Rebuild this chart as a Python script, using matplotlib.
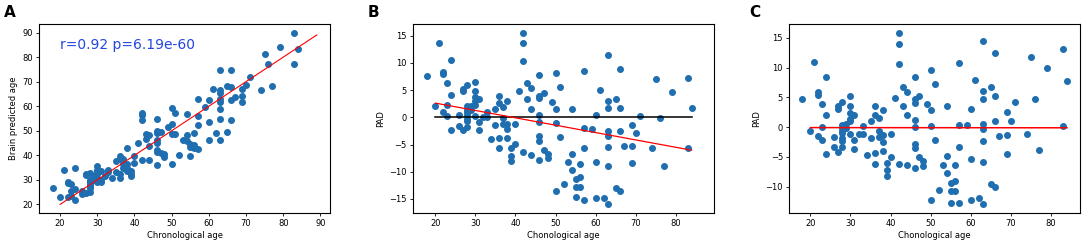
import matplotlib
matplotlib.use("Agg")
import matplotlib.pyplot as plt
import numpy as np

# chronological age of each subject (shared by all three panels)
age = [18, 20, 21, 22, 22, 22, 23, 23, 23, 24, 24, 24, 26, 26, 27, 27, 27,
       28, 28, 28, 28, 28, 28, 28, 28, 29, 29, 30, 30, 30, 30, 30, 30,
       31, 31, 31, 32, 33, 33, 34, 35, 35, 36, 36, 36, 36, 37, 37, 37,
       38, 38, 38, 38, 39, 39, 39, 40, 40, 41, 42, 42, 42, 42, 43, 43,
       44, 44, 44, 46, 46, 46, 46, 46, 46, 46, 46, 47, 47, 48, 48, 49,
       50, 50, 50, 50, 51, 51, 52, 53, 54, 54, 54, 55, 55, 55, 56, 56, 56,
       57, 57, 57, 57, 59, 60, 60, 60, 61, 62,
       63, 63, 63, 63, 63, 63, 63, 63, 65, 65, 66, 66, 66, 66, 67,
       69, 69, 69, 70, 71, 74, 75, 76, 77, 79, 83, 83, 84]

# panel A: brain predicted age
pred_age = [26.5, 23.0, 34.0, 29.3, 28.6, 22.9, 28.2, 25.3, 23.4, 35.0, 26.3, 21.6,
            25.3, 24.1, 32.4, 31.8, 24.8,
            32.7, 30.0, 29.3, 28.8, 27.9, 27.2, 26.5, 24.9, 30.0, 31.5,
            35.8, 34.0, 33.4, 32.3, 30.6, 29.3,
            33.4, 29.8, 29.0, 31.7, 34.0, 33.0, 30.9, 37.5, 33.0,
            39.8, 38.4, 32.2, 30.6, 38.5, 36.5, 35.0,
            42.9, 36.4, 34.7, 33.8, 33.8, 32.3, 31.7, 39.9, 36.9, 45.2,
            57.2, 56.3, 54.2, 38.0, 48.6, 46.6, 48.4, 43.9, 38.0,
            54.8, 49.7, 49.1, 46.3, 45.0, 42.2, 41.2, 36.1, 49.3, 40.9, 40.5, 39.5, 51.4,
            59.3, 52.9, 48.6, 36.5, 57.2, 48.6, 40.2, 46.2, 56.8, 48.4, 45.9,
            44.7, 43.5, 39.9, 49.1, 44.1, 42.9,
            63.0, 55.9, 52.2, 42.5, 59.6, 62.7, 53.7, 46.2, 67.1, 49.1,
            74.7, 66.4, 65.4, 63.0, 61.7, 58.9, 54.9, 46.3, 68.4, 49.5,
            74.7, 67.7, 62.7, 54.2, 63.8,
            67.2, 64.1, 61.7, 68.6, 72.0, 66.7, 81.3, 77.0, 68.3, 84.3, 90.0, 77.3, 83.4]

# panel B: predicted age difference
pad = [7.6, 2.0, 13.6, 8.3, 7.9, 0.9, 6.3, 2.3, 0.2, 10.6, 4.1, -2.4,
       0.4, -1.5, 5.2, 4.8, -2.3,
       5.9, 2.0, 1.4, 0.9, 0.5, -0.3, -0.7, -1.7, 1.4, 2.0,
       6.5, 4.8, 3.7, 3.1, 2.2, 0.2,
       3.3, -0.9, -2.4, 0.0, 1.0, 0.0, -3.9, 1.6, -1.4,
       4.0, 2.7, -3.8, -5.6, 1.9, -0.1, -1.2,
       3.0, -1.2, -2.2, -3.8, -5.7, -7.1, -8.1, -1.2, -4.9, 4.8,
       15.6, 13.6, 10.3, -6.4, 6.3, 3.3, 5.4, 1.5, -6.9,
       7.7, 4.0, 3.6, 0.5, -0.9, -3.5, -4.3, -7.8, 4.4, -6.0, -6.7, -7.5, 2.8,
       8.2, 1.6, -1.0, -13.5, 5.6, -3.6, -12.2, -8.2, 1.6, -6.7, -9.7,
       -11.4, -12.8, -14.7, -8.5, -11.0, -12.8,
       8.5, -1.9, -5.7, -15.1, -2.1, 0.4, -8.2, -14.9, 5.1, -14.9,
       11.4, 3.1, 1.7, -2.5, -3.5, -5.4, -8.9, -16.0, 3.4, -12.9,
       8.9, 1.8, -2.5, -13.6, -5.2,
       -1.4, -5.3, -8.4, -2.9, 0.2, -5.7, 7.0, -0.2, -8.9, 4.6, 7.3, -5.7, 1.7]

# panel C: bias-corrected PAD
pad_corrected = [4.7, -0.7, 11.0, 5.9, 5.4, -1.5, 3.9, 0.0, -2.1, 8.4, 2.0, -4.6,
                 -1.6, -3.4, 3.6, 3.0, -4.2,
                 4.2, 0.4, -0.2, -0.6, -1.0, -1.9, -2.3, -3.3, -0.1, 0.6,
                 5.2, 3.5, 2.4, 1.4, 1.0, -1.1,
                 2.1, -2.1, -3.7, -1.1, 0.1, -1.1, -4.7, 1.0, -1.9,
                 3.5, 2.1, -4.3, -6.2, 1.5, -0.6, -1.6,
                 2.8, -1.4, -2.5, -4.1, -6.0, -7.3, -8.2, -1.2, -5.0, 4.9,
                 15.9, 13.9, 10.6, -6.2, 6.8, 3.6, 5.9, 2.1, -6.4,
                 8.5, 4.7, 4.1, 1.2, 0.0, -2.8, -3.5, -6.9, 5.3, -5.0, -5.7, -6.5, 3.9,
                 9.6, 2.8, 0.2, -12.2, 7.2, -2.1, -10.6, -6.4, 3.5, -4.8, -7.7,
                 -9.4, -10.8, -12.7, -6.4, -9.0, -10.8,
                 10.8, 0.3, -3.4, -12.8, 0.3, 3.1, -5.4, -12.3, 8.0, -12.0,
                 14.5, 6.1, 4.8, 0.6, -0.4, -2.4, -5.9, -13.0, 6.8, -9.5,
                 12.4, 5.3, 1.0, -10.1, -1.5,
                 2.5, -1.4, -4.5, 1.1, 4.3, -1.1, 11.8, 4.7, -3.9, 9.9, 13.1, 0.1, 7.7]

identity_span = [20, 89]
fit_span = [20, 84]
stats_text = "r=0.92 p=6.19e-60"

age = np.array(age)
plt.rcParams["font.size"] = 6

fig = plt.figure(figsize=(10.84, 2.43), dpi=100)
axA = fig.add_axes([0.0364, 0.1235, 0.268, 0.778])
axB = fig.add_axes([0.381, 0.1235, 0.2777, 0.778])
axC = fig.add_axes([0.728, 0.1235, 0.2685, 0.778])

# A: predicted vs chronological age
axA.scatter(age, pred_age, s=16, color="#1f6eb0")
axA.plot(identity_span, identity_span, color="red", lw=0.8)
axA.text(0.07, 0.87, stats_text, transform=axA.transAxes, color="#2346e0", fontsize=10)
axA.set_xlabel("Chronological age")
axA.set_ylabel("Brain predicted age")
axA.set_xticks(range(20, 91, 10))
axA.set_yticks(range(20, 91, 10))

# B: PAD with its age trend
xs = np.array(fit_span)
b1, b0 = np.polyfit(age, pad, 1)
axB.scatter(age, pad, s=16, color="#1f6eb0")
axB.plot(xs, [0, 0], color="black", lw=1.1)
axB.plot(xs, b0 + b1 * xs, color="red", lw=0.9)
axB.set_xlim(14.4, 89.6)
axB.set_xlabel("Chonological age")
axB.set_ylabel("PAD")

# C: corrected PAD
c1, c0 = np.polyfit(age, pad_corrected, 1)
axC.scatter(age, pad_corrected, s=16, color="#1f6eb0")
axC.plot(xs, c0 + c1 * xs, color="red", lw=1.1)
axC.set_xlabel("Chonological age")
axC.set_ylabel("PAD")

for ax in (axA, axB, axC):
    ax.tick_params(length=2.5, width=0.6, pad=2)
    ax.xaxis.labelpad = 2
    ax.yaxis.labelpad = 3
    for s in ax.spines.values():
        s.set_linewidth(0.8)

fig.text(0.0035, 0.93, "A", fontsize=11, fontweight="bold")
fig.text(0.3395, 0.93, "B", fontsize=11, fontweight="bold")
fig.text(0.691, 0.93, "C", fontsize=11, fontweight="bold")

fig.savefig("out.png", dpi=100)
